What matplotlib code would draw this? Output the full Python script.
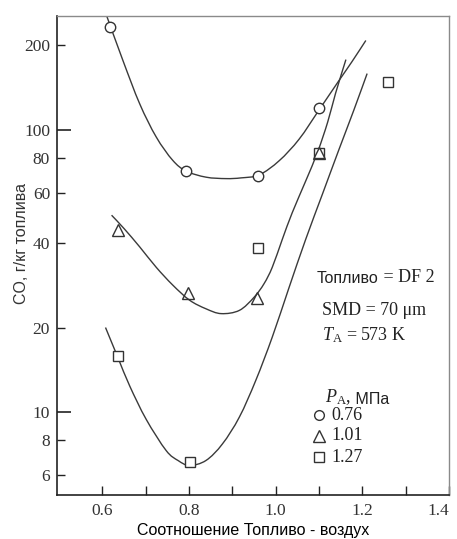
import matplotlib
matplotlib.use("Agg")
import numpy as np
import matplotlib.pyplot as plt
from matplotlib.path import Path
from matplotlib.patches import PathPatch
from matplotlib.ticker import FixedLocator, NullFormatter, FixedFormatter

# ---- data ----
circ_x = [0.617, 0.793, 0.959, 1.101]
circ_y = [232, 71.6, 69, 120]
tri_x = [0.636, 0.797, 0.956, 1.100]
tri_y = [44.2, 26.5, 25.4, 83]
sq_x = [0.636, 0.801, 0.958, 1.100, 1.260]
sq_y = [15.8, 6.7, 38.2, 83, 148]

# fitted curves as drawn in the reference
circ_cx = [0.609, 0.647, 0.686, 0.724, 0.762, 0.793, 0.839, 0.885, 0.920,
           0.962, 1.008, 1.054, 1.100, 1.146, 1.176, 1.208]
circ_cy = [256, 177, 124, 94.7, 78.3, 71.7, 68.2, 67.4, 67.8,
           69.5, 78, 93, 118, 150, 175, 208]
tri_cx = [0.621, 0.650, 0.686, 0.724, 0.762, 0.801, 0.839, 0.874, 0.916, 0.950, 0.973,
          0.992, 1.015, 1.038, 1.069, 1.097, 1.120, 1.138, 1.162]
tri_cy = [50, 44.8, 38.6, 32.7, 28.3, 25.0, 23.3, 22.4, 23.0, 25.6, 28.6,
          32.7, 41, 51, 66, 84, 107, 135, 178]
sq_cx = [0.607, 0.636, 0.663, 0.701, 0.747, 0.775, 0.801, 0.839, 0.877, 0.916, 0.954,
         0.992, 1.030, 1.069, 1.108, 1.146, 1.180, 1.211]
sq_cy = [20.0, 15.6, 12.4, 9.45, 7.33, 6.75, 6.49, 6.76, 7.74, 9.63, 13.0,
         18.5, 27.5, 41, 59.5, 85.5, 117.5, 158.8]

y_major = [10, 100]
y_minor = [6, 8, 20, 40, 60, 80, 200]
x_major = [0.6, 0.8, 1.0, 1.2, 1.4]
x_minor = [0.7, 0.9, 1.1, 1.3]
x_labels = ["0.6", "0.8", "1.0", "1.2", "1.4"]

legend_vals = ["0.76", "1.01", "1.27"]
legend_markers = ["o", "^", "s"]

SERIF = "Liberation Serif"
SANS = "Liberation Sans"
plt.rcParams["mathtext.fontset"] = "custom"
plt.rcParams["mathtext.rm"] = SERIF
plt.rcParams["mathtext.it"] = SERIF + ":italic"

fig = plt.figure(figsize=(4.57, 5.39), dpi=100)
ax = fig.add_axes([57 / 457, 1 - 495 / 539, 392 / 457, 479 / 539])
ax.set_yscale("log")
ax.set_xlim(0.495, 1.4)
ax.set_ylim(5.1, 254)

lc = "#3a3a3a"


def smooth_path(xs, ys):
    """Catmull-Rom style cubic Bezier path through the read points (in x / log-y space)."""
    x = np.asarray(xs, float)
    ly = np.log10(np.asarray(ys, float))
    verts = [(x[0], 10 ** ly[0])]
    codes = [Path.MOVETO]
    n = len(x)
    for i in range(n - 1):
        x0, y0 = (x[i - 1], ly[i - 1]) if i > 0 else (x[i], ly[i])
        x1, y1 = x[i], ly[i]
        x2, y2 = x[i + 1], ly[i + 1]
        x3, y3 = (x[i + 2], ly[i + 2]) if i + 2 < n else (x2, y2)
        c1 = (x1 + (x2 - x0) / 6, y1 + (y2 - y0) / 6)
        c2 = (x2 - (x3 - x1) / 6, y2 - (y3 - y1) / 6)
        verts += [(c1[0], 10 ** c1[1]), (c2[0], 10 ** c2[1]), (x2, 10 ** y2)]
        codes += [Path.CURVE4] * 3
    return Path(verts, codes)


for cx, cy in [(circ_cx, circ_cy), (tri_cx, tri_cy), (sq_cx, sq_cy)]:
    ax.add_patch(PathPatch(smooth_path(cx, cy), facecolor="none", edgecolor=lc, lw=1.0))

mk = dict(linestyle="none", mfc="white", mec="#333333", mew=1.0)
ax.plot(circ_x, circ_y, marker="o", ms=7.5, **mk)
ax.plot(sq_x, sq_y, marker="s", ms=7, **mk)
ax.plot(tri_x, tri_y, marker="^", ms=9, mfc="none", mec="#333333", mew=1.0, linestyle="none")

# ticks
ax.yaxis.set_major_locator(FixedLocator(y_major))
ax.yaxis.set_minor_locator(FixedLocator(y_minor))
ax.yaxis.set_major_formatter(FixedFormatter([str(v) for v in y_major]))
ax.yaxis.set_minor_formatter(FixedFormatter([str(v) for v in y_minor]))
ax.xaxis.set_major_locator(FixedLocator(x_major))
ax.xaxis.set_minor_locator(FixedLocator(x_minor))
ax.xaxis.set_major_formatter(FixedFormatter(x_labels))
ax.xaxis.set_minor_formatter(NullFormatter())

ax.tick_params(axis="y", which="major", direction="in", length=10, width=1.2, color="#222",
               labelsize=12.5, pad=5)
ax.tick_params(axis="y", which="minor", direction="in", length=5.5, width=1.0, color="#222",
               labelsize=12.5, pad=5)
ax.tick_params(axis="x", which="both", direction="in", length=6.5, width=1.0, color="#222",
               labelsize=12.5, pad=6)
for lab in ax.get_xticklabels() + ax.get_yticklabels(which="both"):
    lab.set_fontfamily(SERIF)
    lab.set_color("#333333")
xl = ax.get_xticklabels()
xl[-1].set_horizontalalignment("right")

for s in ["left", "bottom"]:
    ax.spines[s].set_color("#222222")
    ax.spines[s].set_linewidth(1.2)
for s in ["top", "right"]:
    ax.spines[s].set_color("#8a8a8a")
    ax.spines[s].set_linewidth(1.0)

ax.set_xlabel("Соотношение Топливо - воздух", fontfamily=SANS, fontsize=11.5, labelpad=3)
fig.text(22 / 457, 1 - 243 / 539, "CO, г/кг топлива", rotation=90, fontfamily=SANS,
         fontsize=11.5, ha="center", va="center", color="#333333")


def ax_frac(px, py):
    return ((px - 57) / 392, (495 - py) / 479)


tc = "#222222"
t1 = ax.text(*ax_frac(317, 283), "Топливо", transform=ax.transAxes, fontfamily=SANS,
             fontsize=11.5, va="baseline", ha="left", color=tc)
ax.annotate(" = DF 2", xy=(1, 0), xycoords=t1, fontfamily=SERIF, fontsize=13,
            va="bottom", ha="left", color=tc)
ax.text(*ax_frac(322, 315), "SMD = 70 μm", transform=ax.transAxes, fontfamily=SERIF,
        fontsize=13, va="baseline", ha="left", color=tc)
ax.text(*ax_frac(322, 340), r"$T_{\rm A}$ = 573 K", transform=ax.transAxes, fontfamily=SERIF,
        fontsize=13, va="baseline", ha="left", color=tc)
t4 = ax.text(*ax_frac(325, 402), r"$P_{\rm A}$,", transform=ax.transAxes, fontfamily=SERIF,
             fontsize=13, va="baseline", ha="left", color=tc)
ax.annotate(" МПа", xy=(1, 0), xycoords=t4, fontfamily=SANS, fontsize=11.5,
            va="bottom", ha="left", color=tc)

rows_y = [415, 436, 457]
for m, v, py in zip(legend_markers, legend_vals, rows_y):
    fx, fy = ax_frac(319, py)
    ax.plot([fx], [fy], marker=m, transform=ax.transAxes, linestyle="none",
            ms=7 if m != "^" else 9, mfc="none", mec="#333333", mew=1.0, clip_on=False)
    lx, _ = ax_frac(331, py)
    ax.text(lx, fy, v, transform=ax.transAxes, fontfamily=SERIF, fontsize=13,
            va="center", ha="left", color=tc)

fig.savefig("out.png", dpi=100)
